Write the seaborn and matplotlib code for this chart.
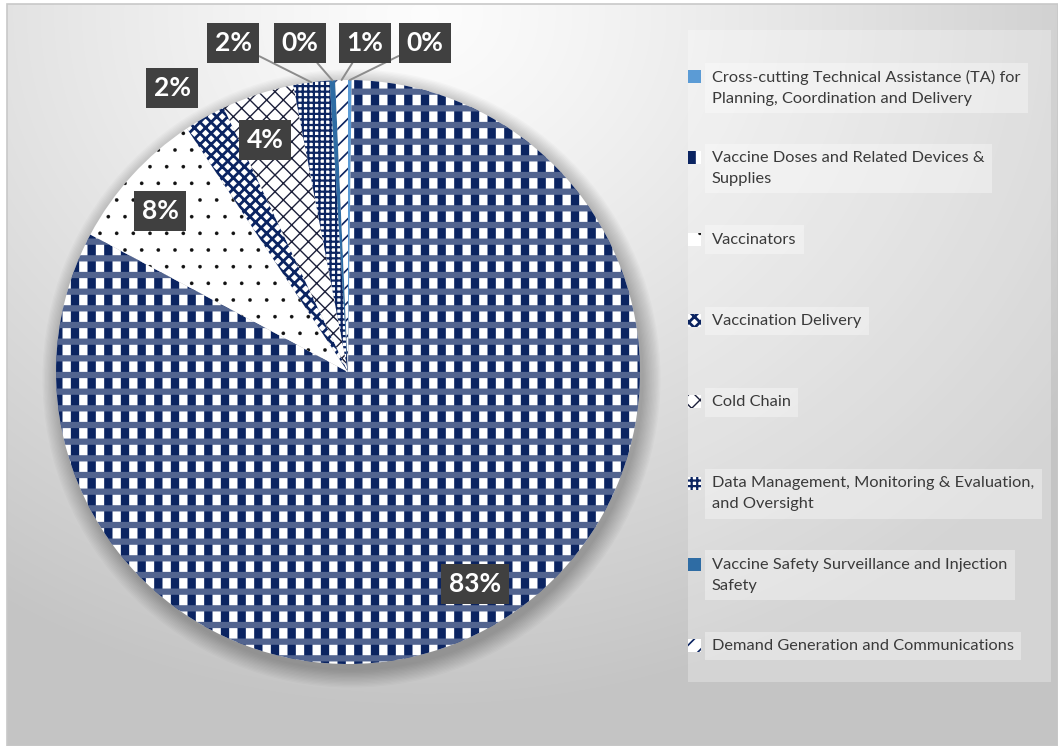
import textwrap
import numpy as np
import pandas as pd
import seaborn as sns
import matplotlib
matplotlib.use("Agg")
import matplotlib as mpl
import matplotlib.pyplot as plt
from matplotlib.patches import Wedge, Rectangle, Circle

# ---------------- data ----------------
categories = [
    "Cross-cutting Technical Assistance (TA) for Planning, Coordination and Delivery",
    "Vaccine Doses and Related Devices & Supplies",
    "Vaccinators",
    "Vaccination Delivery",
    "Cold Chain",
    "Data Management, Monitoring & Evaluation, and Oversight",
    "Vaccine Safety Surveillance and Injection Safety",
    "Demand Generation and Communications",
]
shares = [0.2, 82.6, 7.9, 2.3, 4.0, 2.0, 0.3, 0.7]

df = pd.DataFrame({"category": categories, "share": shares})
df["pct"] = [f"{round(v):.0f}%" for v in df["share"]]

# ---------------- styles / layout ----------------
NAVY = "#0b2461"
styles = [
    dict(fc="#5b9bd5", ec="#5b9bd5", hatch=None, hlw=1.0),
    dict(fc="white", ec=NAVY, hatch="|", hlw=6.0),
    dict(fc="white", ec="#111111", hatch=".", hlw=0.2),
    dict(fc="white", ec=NAVY, hatch="xxx", hlw=2.0),
    dict(fc="white", ec="#1b1f3a", hatch="xx", hlw=1.0),
    dict(fc="white", ec=NAVY, hatch="+++", hlw=1.6),
    dict(fc="#2e6ca4", ec="#2e6ca4", hatch=None, hlw=1.0),
    dict(fc="white", ec=NAVY, hatch="//", hlw=1.2),
]
# label centres in pixels (x from left, y from top) and whether they get a leader line
label_px = [(425, 43), (475, 584), (160, 211), (172, 88),
            (265, 140), (233, 43), (300, 43), (365, 43)]
leader = [True, False, False, False, False, True, True, True]

W, H = 1058, 746
CX, CY, R = 348, 372, 292

sns.set_theme(style="white")
plt.rcParams["font.family"] = ["Lato", "DejaVu Sans"]

fig = plt.figure(figsize=(W / 100, H / 100), dpi=100, facecolor="white")

# ---------------- background ----------------
bg = fig.add_axes([0, 0, 1, 1])
bg.set_xlim(0, W)
bg.set_ylim(H, 0)
bg.axis("off")
yy, xx = np.mgrid[0:H, 0:W]
d = np.sqrt(((xx - 420) / 800.0) ** 2 + ((yy - 10) / 700.0) ** 2)
v = 0.99 - 0.22 * np.clip(d, 0, 1) ** 1.2
img = np.dstack([v, v, v])
bg.imshow(img, extent=(7, W, H, 4), aspect="auto", zorder=0, interpolation="bilinear")
bg.add_patch(Rectangle((7, 4), W - 7, H - 4, fc="none", ec="#c8c8c8", lw=1.2, zorder=1))

# legend panel
bg.add_patch(Rectangle((688, 30), 363, 652, fc="white", alpha=0.28, ec="none", zorder=2))

# ---------------- pie ----------------
ax = fig.add_axes([(CX - R) / W, (H - CY - R) / H, 2 * R / W, 2 * R / H])

wedges, _ = ax.pie(df["share"], startangle=90, counterclock=False, radius=1,
                   wedgeprops=dict(linewidth=0))
ax.set_xlim(-1, 1)
ax.set_ylim(-1, 1)
ax.axis("off")

# soft shadow
for k in range(14):
    ax.add_patch(Circle((0.012, -0.022), 1.0 + 0.0045 * k, fc="black",
                        alpha=0.018, ec="none", zorder=0, clip_on=False))


def style_patch(p, st):
    p.set_facecolor(st["fc"])
    p.set_edgecolor(st["ec"])
    p.set_linewidth(0)
    if st["hatch"]:
        p.set_hatch(st["hatch"])
        if hasattr(p, "set_hatch_linewidth"):
            p.set_hatch_linewidth(st["hlw"])


for w, st in zip(wedges, styles):
    w.set_zorder(2)
    w.set_clip_on(False)
    style_patch(w, st)

# plaid overlay for the vaccine-doses wedge
vd = wedges[1]
ov = Wedge(vd.center, vd.r, vd.theta1, vd.theta2, fc="none", ec="#52648f", lw=0,
           hatch="-", zorder=3, clip_on=False)
if hasattr(ov, "set_hatch_linewidth"):
    ov.set_hatch_linewidth(4.5)
ax.add_patch(ov)


def px2data(px, py):
    return (px - CX) / R, (CY - py) / R


box = dict(boxstyle="square,pad=0.3", fc="#404040", ec="none")
for w, txt, (lx, ly), ld in zip(wedges, df["pct"], label_px, leader):
    tx, ty = px2data(lx, ly)
    if ld:
        mid = np.deg2rad((w.theta1 + w.theta2) / 2)
        ax.annotate(txt, xy=(np.cos(mid), np.sin(mid)), xytext=(tx, ty),
                    ha="center", va="center", color="white", fontsize=19,
                    fontweight="bold", bbox=box, annotation_clip=False, zorder=6,
                    arrowprops=dict(arrowstyle="-", color="#8c8c8c", lw=1.4,
                                    shrinkA=0, shrinkB=0))
    else:
        ax.text(tx, ty, txt, ha="center", va="center", color="white", fontsize=19,
                fontweight="bold", bbox=box, zorder=6, clip_on=False)

# ---------------- legend ----------------
for i, (cat, st) in enumerate(zip(df["category"], styles)):
    y = 77 + 81.3 * i
    h = Rectangle((688, y - 7), 13, 13, zorder=4)
    style_patch(h, st)
    bg.add_patch(h)
    bg.text(712, y - 7, textwrap.fill(cat, 43), ha="left", va="top",
            fontsize=11.8, color="#3a3a3a", linespacing=1.62, zorder=5,
            bbox=dict(boxstyle="square,pad=0.45", fc="white", alpha=0.35, ec="none"))

fig.savefig("out.png", dpi=100, facecolor="white")
